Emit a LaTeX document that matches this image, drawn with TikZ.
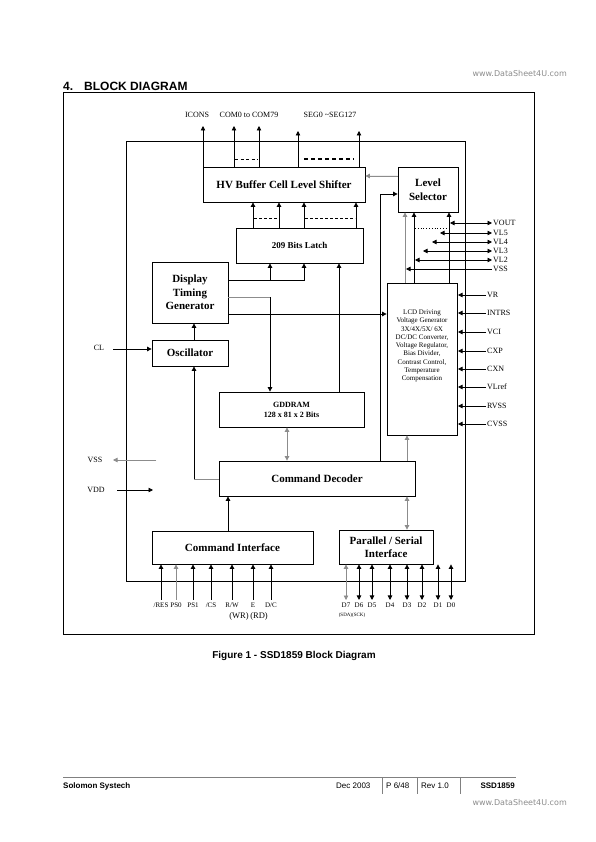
\documentclass[tikz,border=0pt]{standalone}
\usepackage{fontspec}
\setmainfont{Liberation Serif}
\newfontfamily\arial{Liberation Sans}
\newfontfamily\dejavu{DejaVu Sans}
\usetikzlibrary{arrows.meta,calc}
\begin{document}
\begin{tikzpicture}[x=1pt,y=-1pt,
  box/.style={draw, line width=0.8pt, inner sep=0pt, align=center, font=\bfseries\fontsize{11}{13.5}\selectfont},
  arr/.style={line width=0.8pt, -{Triangle[length=4.5pt,width=4.5pt]}},
  darr/.style={line width=0.8pt, {Triangle[length=4.5pt,width=4.5pt]}-{Triangle[length=4.5pt,width=4.5pt]}},
  plain/.style={line width=0.8pt},
  gcol/.style={draw=black!45, fill=black!45},
  lbl/.style={inner sep=1pt, font=\fontsize{8}{9}\selectfont},
  pin/.style={inner sep=0.5pt, font=\fontsize{7}{8}\selectfont},
  wm/.style={inner sep=0pt, text=black!45, font=\dejavu\fontsize{8}{9}\selectfont, anchor=east},
  foot/.style={inner sep=0pt, font=\arial\fontsize{8}{9}\selectfont, anchor=west}
]
\fill[white] (0,0) rectangle (595,842);
\useasboundingbox (0,0) rectangle (595,842);

% header
\node[inner sep=0pt, anchor=west, font=\arial\bfseries\fontsize{12}{14}\selectfont] (head) at (63,86) {4.\hspace{11pt}BLOCK DIAGRAM};
\node[wm] (wm1) at (567,74) {www.DataSheet4U.com};

% frames
\draw[line width=1pt] (63,93) rectangle (534,634);
\draw[line width=0.8pt] (126,141) rectangle (465,581);

% blocks
\node[box, minimum width=162pt, minimum height=35pt] (hv) at (284,184.5) {HV Buffer Cell Level Shifter};
\node[box, minimum width=60pt, minimum height=45pt, font=\bfseries\fontsize{11}{14.5}\selectfont] (ls) at (428,189.5) {Level\\Selector};
\node[box, minimum width=127pt, minimum height=35pt, font=\bfseries\fontsize{9}{11}\selectfont] (latch) at (299.5,245.5) {209 Bits Latch};
\node[box, minimum width=76pt, minimum height=61pt] (dtg) at (190,292.5) {Display\\Timing\\Generator};
\node[box, minimum width=76pt, minimum height=26pt] (osc) at (190,353) {Oscillator};
\node[box, minimum width=70pt, minimum height=152pt] (lcd) at (422,359) {};
\node[inner sep=0pt, align=center, font=\fontsize{7}{8.25}\selectfont] (lcdtxt) at (422,346) {LCD Driving\\Voltage Generator\\3X/4X/5X/ 6X\\DC/DC Converter,\\Voltage Regulator,\\Bias Divider,\\Contrast Control,\\Temperature\\Compensation};
\node[box, minimum width=145pt, minimum height=35pt, font=\bfseries\fontsize{8}{10}\selectfont] (gdd) at (291.5,409.5) {GDDRAM\\128 x 81 x 2 Bits};
\node[box, minimum width=196pt, minimum height=35pt] (cd) at (317,478.5) {Command Decoder};
\node[box, minimum width=161pt, minimum height=33pt] (ci) at (232.5,547.5) {Command Interface};
\node[box, minimum width=94pt, minimum height=34pt, font=\bfseries\fontsize{11}{12.5}\selectfont] (psi) at (386,547) {Parallel / Serial\\Interface};

% top outputs
\node[lbl] (icons) at (197,115) {ICONS};
\node[lbl] (com) at (249,115) {COM0 to COM79};
\node[lbl] (seg) at (330,115) {SEG0 \textasciitilde SEG127};
\coordinate (t1) at (203,126);
\coordinate (t2) at (234,126);
\coordinate (t3) at (259,126);
\coordinate (t4) at (298,131);
\coordinate (t5) at (359,131);
\foreach \c in {t1,t2,t3,t4,t5} \draw[arr] (hv.north -| \c) -- (\c);
\draw[line width=0.7pt, dash pattern=on 3pt off 2.5pt] (235,159) -- (258,159);
\draw[line width=1.5pt, dash pattern=on 4pt off 3pt] (304,159) -- (354,159);

% latch to HV
\foreach \x [count=\i] in {253,279,304,356} \coordinate (la\i) at (\x,0);
\foreach \i in {1,...,4} \draw[arr] (latch.north -| la\i) -- (hv.south -| la\i);
\draw[line width=0.7pt, dash pattern=on 3pt off 2pt] (254,218) -- (278,218);
\draw[line width=0.7pt, dash pattern=on 3pt off 2pt] (305,218) -- (355,218);

% level selector connections
\coordinate (y176) at (0,176);
\coordinate (y194) at (0,194);
\coordinate (x380) at (380,0);
\coordinate (x405) at (405,0);
\coordinate (x414) at (414,0);
\coordinate (x449) at (449,0);
\draw[arr, gcol] (ls.west |- y176) -- (hv.east |- y176);
\draw[arr] (cd.north -| x380) |- (ls.west |- y194);
\draw[arr, gcol] (lcd.north -| x405) -- (ls.south -| x405);
\draw[arr] (lcd.north -| x414) -- (ls.south -| x414);
\draw[arr] (lcd.north -| x449) -- (ls.south -| x449);
\draw[line width=0.8pt, dotted] (415,228) -- (447,228);

% right side voltage signals
\node[lbl, anchor=west] (vout) at (492,223) {VOUT};
\node[lbl, anchor=west] (vl5) at (492,233) {VL5};
\node[lbl, anchor=west] (vl4) at (492,242) {VL4};
\node[lbl, anchor=west] (vl3) at (492,251) {VL3};
\node[lbl, anchor=west] (vl2) at (492,260) {VL2};
\node[lbl, anchor=west] (vss2) at (492,269) {VSS};
\coordinate (e1) at (450,0);
\coordinate (e2) at (440,0);
\coordinate (e3) at (432,0);
\coordinate (e4) at (423,0);
\coordinate (e5) at (415,0);
\coordinate (e6) at (406,0);
\draw[darr] (vout.west) -- (vout.west -| e1);
\draw[darr] (vl5.west) -- (vl5.west -| e2);
\draw[darr] (vl4.west) -- (vl4.west -| e3);
\draw[darr] (vl3.west) -- (vl3.west -| e4);
\draw[darr] (vl2.west) -- (vl2.west -| e5);
\draw[arr] (vss2.west) -- (vss2.west -| e6);

% right side LCD pins
\coordinate (pe) at (458,0);
\foreach \n/\t/\y in {vr/VR/295, intrs/INTRS/313, vci/VCI/332, cxp/CXP/351, cxn/CXN/369, vlref/VLref/387, rvss/RVSS/406, cvss/CVSS/424}{
  \node[lbl, anchor=west] (\n) at (486,\y) {\t};
  \draw[arr] (\n.west) -- (\n.west -| pe);
}

% display timing generator connections
\coordinate (y280) at (0,280);
\coordinate (y297) at (0,297);
\coordinate (y314) at (0,314);
\coordinate (x270) at (270,0);
\coordinate (x304) at (304,0);
\coordinate (x339) at (339,0);
\draw[arr] (dtg.east |- y280) -| (latch.south -| x304);
\draw[arr] (x270 |- y280) -- (latch.south -| x270);
\draw[plain, draw=black!45] (dtg.east |- y297) -- (x270 |- y297);
\draw[arr] (x270 |- y297) -- (gdd.north -| x270);
\draw[arr] (dtg.east |- y314) -- (lcd.west |- y314);
\draw[arr] (gdd.north -| x339) -- (latch.south -| x339);

% oscillator
\coordinate (x194) at (194,0);
\coordinate (y479) at (0,479);
\draw[arr] (osc.north -| x194) -- (dtg.south -| x194);
\node[lbl] (cl) at (99,348) {CL};
\coordinate (clin) at (113,349);
\draw[arr] (clin) -- (osc.west |- clin);
\draw[plain, draw=black!45] (cd.west |- y479) -- (x194 |- y479);
\draw[arr] (x194 |- y479) -- (osc.south -| x194);

% power
\node[lbl] (vss1) at (95,460) {VSS};
\node[lbl] (vdd) at (96,490) {VDD};
\coordinate (vssin) at (156,460);
\coordinate (vssout) at (113,460);
\coordinate (vddin) at (117,490);
\coordinate (vddout) at (153,490);
\draw[arr, gcol] (vssin) -- (vssout);
\draw[arr] (vddin) -- (vddout);

% decoder connections
\coordinate (x287) at (287,0);
\coordinate (x407) at (407,0);
\coordinate (x228) at (228,0);
\draw[darr, gcol] (gdd.south -| x287) -- (cd.north -| x287);
\draw[arr, gcol] (cd.north -| x407) -- (lcd.south -| x407);
\draw[darr, gcol] (cd.south -| x407) -- (psi.north -| x407);
\draw[arr] (ci.north -| x228) -- (cd.south -| x228);

% command interface pins
\foreach \n/\t/\x in {pres/{/RES}/161, pps0/PS0/176, pps1/PS1/193, pcs/{/CS}/211, prw/{R/W}/232, pe2/E/253, pdc/{D/C}/271}{
  \node[pin] (\n) at (\x,605) {\t};
}
\foreach \n in {pres,pps1,pcs,prw,pe2,pdc} \draw[arr] ([yshift=2pt]\n.north) -- (ci.south -| \n);
\draw[arr, gcol] ([yshift=2pt]pps0.north) -- (ci.south -| pps0);
\node[pin, font=\fontsize{8.5}{9}\selectfont] (pwr) at (239,616) {(WR)};
\node[pin, font=\fontsize{8.5}{9}\selectfont] (prd) at (259,616) {(RD)};

% data pins
\foreach \n/\t/\x in {d7/D7/346, d6/D6/359, d5/D5/372, d4/D4/390, d3/D3/407, d2/D2/422, d1/D1/438, d0/D0/451}{
  \node[pin] (\n) at (\x,605) {\t};
}
\draw[darr, gcol] ([yshift=2pt]d7.north) -- (psi.south -| d7);
\foreach \n in {d6,d5,d4,d3,d2,d1,d0} \draw[darr] ([yshift=2pt]\n.north) -- (psi.south -| \n);
\node[pin, font=\fontsize{5}{6}\selectfont] (sdasck) at (352,615) {(SDA)(SCK)};

% caption
\node[inner sep=0pt, font=\arial\bfseries\fontsize{10}{12}\selectfont] (cap) at (294,656) {Figure 1 - SSD1859 Block Diagram};

% footer
\draw[black!50, line width=0.6pt] (63,777) -- (516,777);
\foreach \x in {382,417,460} \draw[black!50, line width=0.6pt] (\x,777) -- (\x,794);
\node[foot, font=\arial\bfseries\fontsize{8}{9}\selectfont] (f1) at (63,786) {Solomon Systech};
\node[foot] (f2) at (336,786) {Dec 2003};
\node[foot] (f3) at (386,786) {P 6/48};
\node[foot] (f4) at (421,786) {Rev 1.0};
\node[foot, anchor=east, font=\arial\bfseries\fontsize{8}{9}\selectfont] (f5) at (515,786) {SSD1859};
\node[wm] (wm2) at (567,803) {www.DataSheet4U.com};
\end{tikzpicture}
\end{document}
